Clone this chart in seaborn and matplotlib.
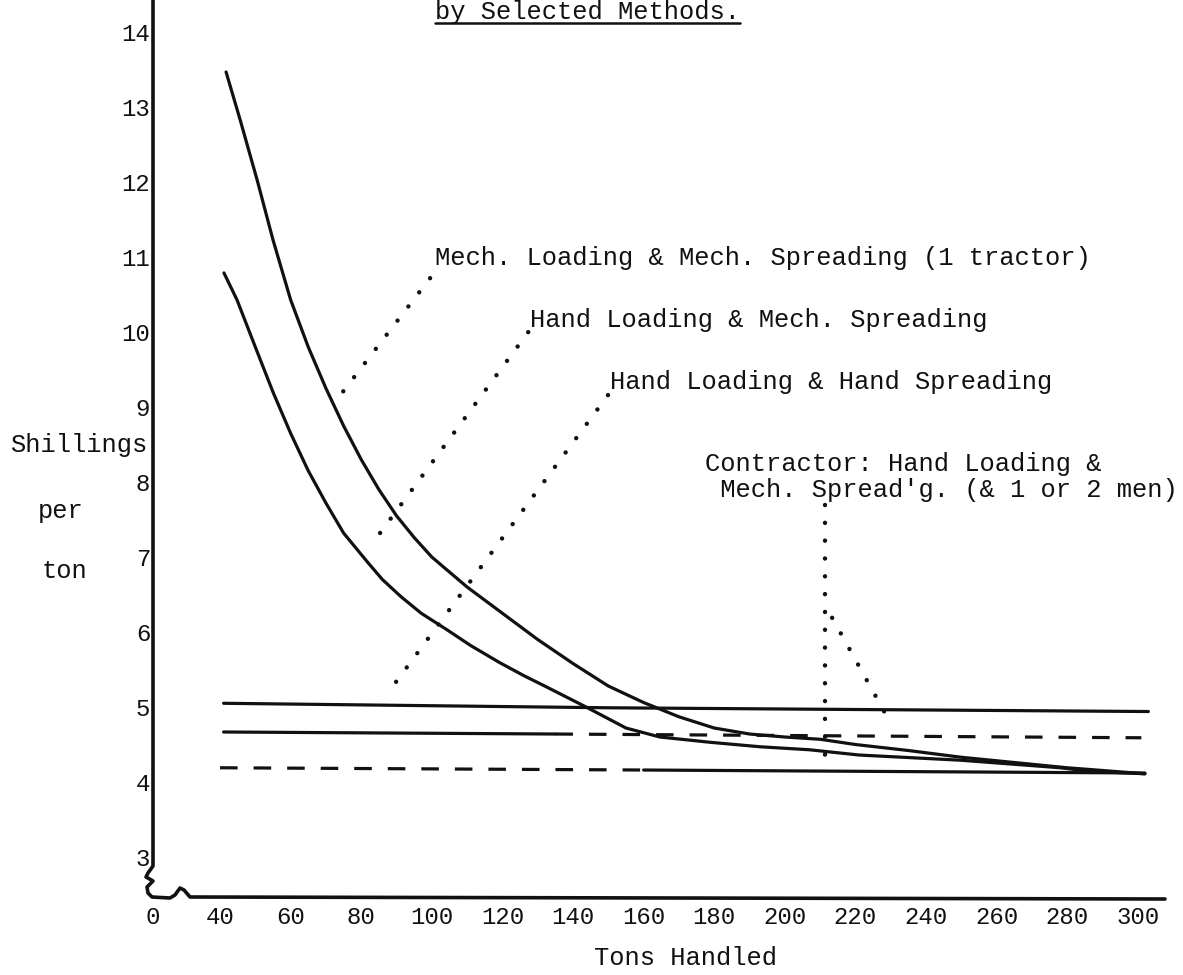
import matplotlib
matplotlib.use('Agg')
import matplotlib.pyplot as plt
import seaborn as sns

sns.set_theme(style='white')
plt.rcParams['font.family'] = ['Liberation Mono', 'DejaVu Sans Mono']

# values (tons handled -> shillings per ton)
mech_tons = [41.7, 45.7, 50.5, 55, 60, 65, 70, 75, 80, 85, 90, 95, 100, 110, 120, 130,
             140, 150, 160, 170, 180, 190, 200, 210, 220, 235, 250, 265, 280, 302]
mech_cost = [13.47, 12.83, 12.03, 11.23, 10.43, 9.8, 9.25, 8.75, 8.3, 7.9, 7.55, 7.26,
             7.0, 6.6, 6.25, 5.9, 5.58, 5.28, 5.06, 4.87, 4.72, 4.64, 4.6, 4.57, 4.5,
             4.42, 4.33, 4.26, 4.19, 4.11]

hand_mech_tons = [41.1, 44.8, 50, 55, 60, 65, 70, 75, 82, 86, 91.3, 97, 104.3, 111,
                  119.3, 126, 132.4, 143.7, 155, 164.6, 178.8, 193, 207, 221, 250, 278,
                  287, 302]
hand_mech_cost = [10.79, 10.43, 9.8, 9.2, 8.65, 8.15, 7.72, 7.32, 6.92, 6.7, 6.47, 6.25,
                  6.03, 5.82, 5.59, 5.42, 5.27, 5.0, 4.72, 4.6, 4.53, 4.47, 4.43, 4.36,
                  4.29, 4.19, 4.14, 4.11]

hand_hand_tons = [41, 150, 303]
hand_hand_cost = [5.05, 4.99, 4.94]

# contractor lines: part solid, part dashed
contr2_solid_tons = [41, 135]
contr2_solid_cost = [4.667, 4.64]
contr2_dash_tons = [135, 301]
contr2_dash_cost = [4.64, 4.59]
contr1_dash_tons = [40, 160]
contr1_dash_cost = [4.19, 4.16]
contr1_solid_tons = [160, 302]
contr1_solid_cost = [4.16, 4.12]

x_ticks = list(range(40, 301, 20))
y_ticks = list(range(3, 15))

labels = ['Mech. Loading & Mech. Spreading (1 tractor)',
          'Hand Loading & Mech. Spreading',
          'Hand Loading & Hand Spreading',
          'Contractor: Hand Loading &',
          ' Mech. Spread\'g. (& 1 or 2 men)']
label_tons = [100.9, 127.8, 150.5, 177.4, 177.4]
label_cost = [10.99, 10.16, 9.33, 8.24, 7.89]

# dotted leaders from the labels to the lines: (tons0, cost0, tons1, cost1)
leaders = [(99.5, 10.72, 72.6, 9.07),
           (127.3, 10.0, 83.9, 7.23),
           (149.9, 9.16, 88.2, 5.23),
           (211.4, 7.69, 211.4, 4.23),
           (213.4, 6.19, 229.8, 4.8)]

W, H = 1183, 975
fig = plt.figure(figsize=(W / 100, H / 100), dpi=100)
fig.patch.set_facecolor('white')
ax = fig.add_axes([153 / W, 77 / H, 1012 / W, 898 / H])
ax.set_facecolor('white')

ink = '#111111'
lw = 2.3
dash = (0, (5.5, 5))

sns.lineplot(x=mech_tons, y=mech_cost, ax=ax, color=ink, lw=lw)
sns.lineplot(x=hand_mech_tons, y=hand_mech_cost, ax=ax, color=ink, lw=lw)
sns.lineplot(x=hand_hand_tons, y=hand_hand_cost, ax=ax, color=ink, lw=lw)
sns.lineplot(x=contr2_solid_tons, y=contr2_solid_cost, ax=ax, color=ink, lw=lw)
sns.lineplot(x=contr2_dash_tons, y=contr2_dash_cost, ax=ax, color=ink, lw=lw, linestyle=dash)
sns.lineplot(x=contr1_dash_tons, y=contr1_dash_cost, ax=ax, color=ink, lw=lw, linestyle=dash)
sns.lineplot(x=contr1_solid_tons, y=contr1_solid_cost, ax=ax, color=ink, lw=lw)

for t0, c0, t1, c1 in leaders:
    ax.plot([t0, t1], [c0, c1], color=ink, lw=3.2, linestyle=(0, (0.01, 4.0)),
            dash_capstyle='round')

fs = 18.4
for txt, t, c in zip(labels, label_tons, label_cost):
    ax.text(t, c, txt, fontsize=fs, color=ink, ha='left', va='center')

ax.set_xlim(21.0, 307.7)
ax.set_ylim(2.453, 14.43)
ax.set_xticks(x_ticks)
ax.set_yticks(y_ticks)
ax.tick_params(axis='both', direction='in', length=6, width=2, colors=ink,
               labelsize=17.3)
ax.tick_params(axis='x', pad=6)
ax.tick_params(axis='y', pad=2)
ax.text(0, -0.009, '0', transform=ax.transAxes, ha='center', va='top',
        fontsize=17.3, color=ink)

for s in ax.spines.values():
    s.set_visible(False)

# hand-drawn frame with the broken-axis squiggles near the origin
px = [153, 153, 148, 146, 153, 147, 148, 152, 170, 175, 180, 184, 190, 1165]
py = [0, 866, 873, 877, 881, 887, 893, 897, 898, 895, 888, 890, 897, 899]
ax.plot([(x - 153) / 1012 for x in px], [(898 - y) / 898 for y in py],
        transform=ax.transAxes, color=ink, lw=2.6, clip_on=False,
        solid_joinstyle='round')

ax.set_xlabel('')
ax.set_ylabel('')
fig.text(685 / W, 1 - 958 / H, 'Tons Handled', ha='center', va='center',
         fontsize=fs, color=ink)
fig.text(79 / W, 1 - 445 / H, 'Shillings', ha='center', va='center', fontsize=fs, color=ink)
fig.text(61 / W, 1 - 511 / H, 'per', ha='center', va='center', fontsize=fs, color=ink)
fig.text(65 / W, 1 - 571 / H, 'ton', ha='center', va='center', fontsize=fs, color=ink)

# title line at the top edge of the page, underlined
title = fig.text(435 / W, 1 - 19 / H, 'by Selected Methods.', ha='left',
                 va='baseline', fontsize=fs, color=ink)
fig.canvas.draw()
bb = title.get_window_extent()
fig.add_artist(plt.Line2D([bb.x0 / W, bb.x1 / W], [1 - 23 / H, 1 - 23 / H],
                          transform=fig.transFigure, color=ink, lw=1.8))

fig.savefig('out.png', dpi=100)
